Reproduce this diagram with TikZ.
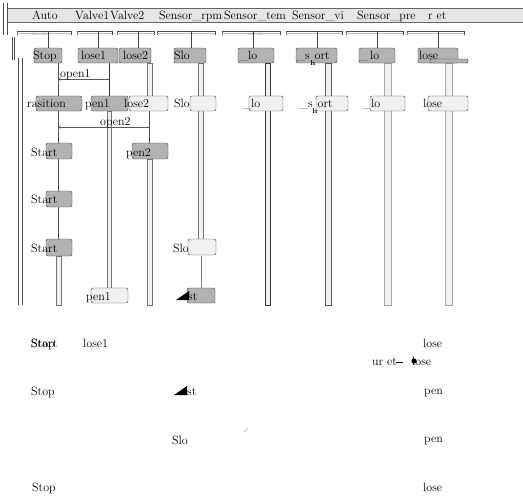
\documentclass[tikz,border=0pt]{standalone}
\usepackage{tikz}
\usetikzlibrary{arrows,positioning}

\begin{document}
\begin{tikzpicture}[x=1pt,y=-1pt,
  txt/.style={font=\large,inner sep=0pt,anchor=base west},
  dkbox/.style={draw=black!75,fill=black!30,rounded corners=2pt},
  ltbox/.style={draw=black!75,fill=black!6,rounded corners=2pt},
  life/.style={draw=black!55,fill=black!6},
  msg/.style={draw=black!65,->,>=to}]
\useasboundingbox (0,0) rectangle (523,496);
\fill[black!10] (8,8) rectangle (523,22);
\draw[black!60] (8,8) -- (523,8) (8,22) -- (523,22);
\draw[black!70] (3,3) -- (3,35) (7,3) -- (7,35);
\draw[black!70] (12,37) -- (12,60) (14,37) -- (14,60);
\draw[black!70] (18,58) -- (18,305) (22,58) -- (22,305);
\node[txt] (hauto) at (32,19) {Auto};
\node[txt] (hvalve1) at (75,19) {Valve1};
\node[txt] (hvalve2) at (110,19) {Valve2};
\node[txt] (hrpm) at (159,19) {Sensor\_rpm};
\node[txt] (htem) at (224,19) {Sensor\_tem};
\node[txt] (hvi) at (292,19) {Sensor\_vi};
\node[txt] (hpre) at (357,19) {Sensor\_pre};
\node[txt] (htarget) at (428,19) {r et};
\draw[black!70] (17,35) -- (17,31) -- (71,31) -- (71,35);
\draw[black!70] (77,35) -- (77,31) -- (112,31) -- (112,35);
\draw[black!70] (117,35) -- (117,31) -- (154,31) -- (154,35);
\draw[black!70] (157,35) -- (157,31) -- (215,31) -- (215,35);
\draw[black!70] (222,35) -- (222,31) -- (280,31) -- (280,35);
\draw[black!70] (286,35) -- (286,31) -- (342,31) -- (342,35);
\draw[black!70] (346,35) -- (346,31) -- (403,31) -- (403,35);
\draw[black!70] (407,35) -- (407,31) -- (464,31) -- (464,35);
\draw[black!25] (17,33) -- (71,33) (77,33) -- (112,33) (117,33) -- (154,33) (157,33) -- (215,33)
  (222,33) -- (280,33) (286,33) -- (342,33) (346,33) -- (403,33) (407,33) -- (464,33);
\node[font=\tiny,text=black!40,inner sep=0pt] (mauto) at (40,34) {mode};
\node[font=\tiny,text=black!40,inner sep=0pt] (mtem) at (256,34) {mode};
\draw[black!75] (48,31) -- (48,48) (98,31) -- (98,48) (138,31) -- (138,48) (191,31) -- (191,48)
  (253,31) -- (253,48) (317,31) -- (317,48) (377,31) -- (377,48) (438,31) -- (438,48);
\draw[black!70] (58,63) -- (58,239);
\draw[life] (56,256) rectangle (61,305);
\draw[black!80] (109,63) -- (109,96);
\draw[life] (107,111) rectangle (111,288);
\draw[life] (147,63) rectangle (152,96);
\draw[black!70] (149,111) -- (149,143);
\draw[life] (147,159) rectangle (152,305);
\draw[life] (198,63) rectangle (203,239);
\draw[black!50] (201,256) -- (201,288);
\draw[life,draw=black!80] (265,63) rectangle (270,305);
\draw[life,draw=black!65] (325,63) rectangle (331,305);
\draw[life,draw=black!35] (384,63) rectangle (391,305);
\draw[life,draw=black!35] (445,63) rectangle (452,305);
\coordinate (o1s) at (109,79);
\coordinate (o1e) at (59,79);
\draw[msg] (o1s) -- (o1e);
\node[txt] (lopen1) at (60,77) {open1};
\coordinate (o2s) at (149,127);
\coordinate (o2e) at (59,127);
\draw[msg] (o2s) -- (o2e);
\node[txt] (lopen2) at (100,125) {open2};
\draw[dkbox] (34,48) rectangle (62,63);
\draw[dkbox] (78,48) rectangle (118,63);
\draw[dkbox] (119,48) rectangle (151,63);
\draw[dkbox] (174,48) rectangle (206,63);
\draw[dkbox] (238,48) rectangle (274,63);
\draw[dkbox] (296,48) rectangle (337,63);
\draw[dkbox] (359,48) rectangle (395,63);
\draw[dkbox] (418,48) rectangle (458,63);
\draw[dkbox,rounded corners=1pt] (430,59) rectangle (468,63);
\node[txt] (auto1) at (33,59) {Stop};
\node[txt] (valve11) at (81,59) {lose1};
\node[txt] (valve21) at (123,59) {lose2};
\node[txt] (rpm1) at (174,59) {Slo};
\node[txt] (tem1) at (239,59) {\_lo};
\node[txt] (vi1) at (296,59) {\_s\hspace{5pt}ort};
\node[font=\scriptsize\bfseries,inner sep=0pt] (vih1) at (313,63) {h};
\node[txt] (pre1) at (359,59) {\_\,lo};
\node[txt] (target1) at (419,59) {lose};
\draw[dkbox] (36,96) rectangle (82,111);
\draw[dkbox] (91,96) rectangle (128,111);
\draw[ltbox] (129,96) rectangle (168,111);
\draw[ltbox] (190,96) rectangle (216,111);
\draw[ltbox] (249,96) rectangle (283,111);
\draw[ltbox] (316,96) rectangle (348,111);
\draw[ltbox] (370,96) rectangle (405,111);
\draw[ltbox] (428,96) rectangle (468,111);
\node[txt] (auto2) at (27,107) {rasition};
\node[txt] (valve12) at (85,107) {pen1};
\node[txt] (valve22) at (124,107) {lose2};
\node[txt] (rpm2) at (174,107) {Slo};
\node[txt] (tem2) at (242,107) {\_lo};
\node[txt] (vi2) at (299,107) {\_s\hspace{5pt}ort};
\node[font=\scriptsize\bfseries,inner sep=0pt] (vih2) at (315,111) {h};
\node[txt] (pre2) at (362,107) {\_lo};
\node[txt] (target2) at (423,107) {lose};
\draw[dkbox] (46,143) rectangle (72,159);
\draw[dkbox] (132,143) rectangle (168,159);
\node[txt] (auto3) at (31,156) {Start};
\node[txt] (valve23) at (126,156) {pen2};
\draw[dkbox] (46,191) rectangle (72,207);
\node[txt] (auto4) at (31,203) {Start};
\draw[dkbox] (46,239) rectangle (72,256);
\draw[ltbox] (188,239) rectangle (216,255);
\node[txt] (auto5) at (31,252) {Start};
\node[txt] (rpm5) at (173,252) {Slo};
\draw[ltbox] (91,288) rectangle (128,303);
\draw[dkbox] (187,288) rectangle (215,303);
\node[txt] (valve16) at (86,300) {pen1};
\fill (176,300) -- (189,300) -- (189,291) -- cycle;
\node[txt] (rpm6) at (188,300) {st};
\node[txt] (lstop1) at (31,347) {Stop};
\node[txt] (lstart1) at (31,347) {Start};
\node[txt] (lvalve1) at (83,347) {lose1};
\node[txt] (ltarget1) at (423,347) {lose};
\node[txt] (lcur) at (372,365) {ur et};
\node[txt] (ltarget2) at (412,365) {lose};
\coordinate (ce) at (396,362);
\coordinate (ct) at (403,362);
\draw (ce) -- (ct);
\fill (414,361) circle (2.6);
\node[txt] (lstop2) at (31,395) {Stop};
\fill (174,395) -- (187,395) -- (187,386) -- cycle;
\node[txt] (lfast) at (187,395) {st};
\node[txt] (ltarget3) at (424,394) {pen};
\node[txt] (lslow) at (172,444) {Slo};
\draw[black!30] (244,432) -- (248,428);
\node[txt] (ltarget4) at (424,442) {pen};
\node[txt] (lstop3) at (32,491) {Stop};
\node[txt] (ltarget5) at (423,491) {lose};
\end{tikzpicture}
\end{document}
